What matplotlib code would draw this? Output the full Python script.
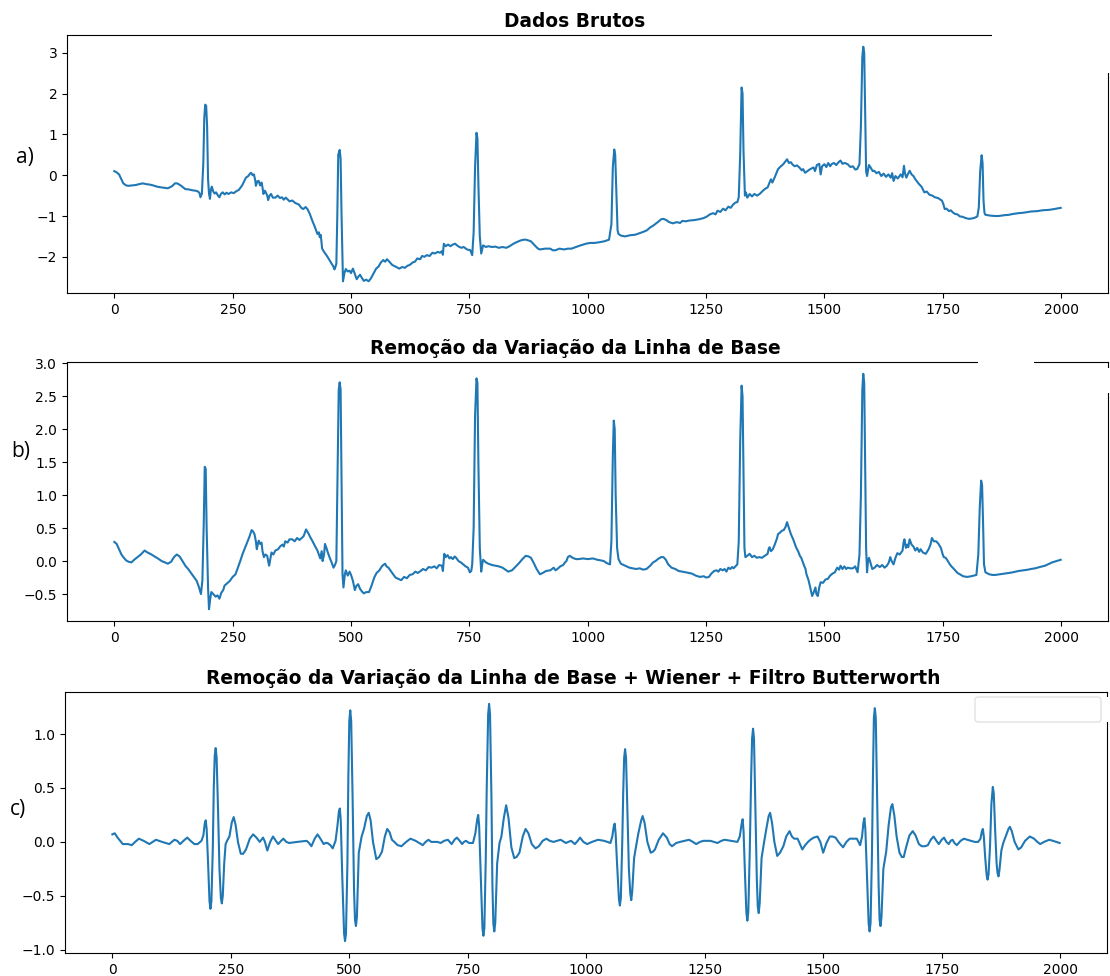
import matplotlib
matplotlib.use("Agg")
import matplotlib.pyplot as plt
from matplotlib.patches import Rectangle, FancyBboxPatch

# ---------------- data ----------------
titles = ["Dados Brutos",
          "Remoção da Variação da Linha de Base",
          "Remoção da Variação da Linha de Base + Wiener + Filtro Butterworth"]
panel_labels = ["a)", "b)", "c)"]

raw_pts = [
    (0, 0.10), (5, 0.07), (10, 0.02), (15, -0.10), (19, -0.20), (25, -0.25), (30, -0.26), (38, -0.25),
    (45, -0.24), (52, -0.22), (60, -0.20), (68, -0.22), (75, -0.23), (82, -0.25), (90, -0.28), (100, -0.30),
    (113, -0.32), (122, -0.27), (128, -0.20), (133, -0.20), (140, -0.25), (150, -0.34), (158, -0.35),
    (165, -0.37), (172, -0.38), (177, -0.40), (180, -0.44), (182, -0.54), (185, -0.45), (188, 0.30),
    (190, 1.40), (192, 1.73), (194, 1.70), (196, 1.20), (198, -0.10), (200, -0.45), (202, -0.58),
    (204, -0.35), (206, -0.28), (209, -0.40), (212, -0.45), (215, -0.42), (219, -0.50), (222, -0.54),
    (225, -0.46), (229, -0.42), (233, -0.47), (237, -0.43), (241, -0.46), (247, -0.42), (252, -0.44),
    (258, -0.39), (263, -0.36), (270, -0.25), (278, -0.06), (283, -0.02), (286, 0.03), (289, 0.06),
    (292, 0.00), (295, 0.02), (298, -0.15), (299, -0.26), (302, -0.15), (305, -0.14), (308, -0.25),
    (311, -0.18), (313, -0.30), (315, -0.46), (318, -0.38), (320, -0.42), (323, -0.50), (325, -0.61),
    (328, -0.50), (331, -0.46), (335, -0.55), (340, -0.55), (345, -0.50), (350, -0.56), (354, -0.54),
    (358, -0.60), (362, -0.55), (365, -0.58), (370, -0.64), (376, -0.62), (382, -0.68), (390, -0.72),
    (395, -0.80), (399, -0.83), (404, -0.78), (408, -0.83), (413, -0.95), (418, -1.11), (423, -1.25),
    (429, -1.44), (432, -1.40), (434, -1.52), (436, -1.46), (439, -1.80), (443, -1.88), (448, -1.96),
    (453, -2.05), (459, -2.17), (462, -2.22), (465, -2.31), (467, -2.25), (469, -2.17), (471, -1.00),
    (473, 0.50), (476, 0.62), (478, 0.40), (480, -1.00), (483, -2.60), (486, -2.40), (489, -2.30),
    (493, -2.36), (497, -2.34), (500, -2.40), (504, -2.29), (508, -2.42), (512, -2.55), (516, -2.48),
    (519, -2.44), (523, -2.52), (527, -2.59), (532, -2.56), (537, -2.60), (542, -2.53), (547, -2.42),
    (553, -2.29), (558, -2.24), (563, -2.14), (568, -2.08), (572, -2.12), (576, -2.06), (581, -2.12),
    (587, -2.20), (594, -2.24), (602, -2.29), (608, -2.25), (614, -2.27), (619, -2.22), (624, -2.20),
    (630, -2.14), (635, -2.12), (640, -2.04), (646, -2.06), (650, -1.98), (655, -2.00), (660, -1.96),
    (666, -1.98), (672, -1.90), (677, -1.92), (683, -1.88), (688, -1.90), (692, -1.86), (694, -1.95),
    (696, -1.68), (700, -1.74), (705, -1.70), (710, -1.74), (715, -1.70), (720, -1.68), (726, -1.74),
    (733, -1.78), (738, -1.76), (745, -1.82), (752, -1.84), (756, -1.96), (759, -1.40), (762, 0.20),
    (765, 1.04), (767, 0.90), (769, -0.20), (772, -1.50), (775, -1.92), (779, -1.72), (785, -1.76),
    (790, -1.74), (798, -1.76), (805, -1.75), (812, -1.78), (820, -1.76), (828, -1.78), (835, -1.74),
    (843, -1.68), (850, -1.64), (858, -1.60), (865, -1.58), (869, -1.58), (875, -1.60), (880, -1.62),
    (888, -1.72), (895, -1.80), (899, -1.82), (910, -1.80), (921, -1.80), (926, -1.84), (932, -1.84),
    (940, -1.80), (950, -1.82), (958, -1.80), (966, -1.80), (975, -1.76), (985, -1.72), (996, -1.68),
    (1005, -1.66), (1015, -1.66), (1026, -1.64), (1035, -1.62), (1045, -1.58), (1050, -1.20),
    (1053, 0.20), (1056, 0.63), (1058, 0.50), (1061, -0.60), (1063, -1.35), (1065, -1.44), (1070, -1.48),
    (1079, -1.50), (1090, -1.47), (1100, -1.46), (1110, -1.42), (1117, -1.39), (1125, -1.35),
    (1132, -1.28), (1139, -1.23), (1148, -1.15), (1155, -1.08), (1160, -1.07), (1166, -1.10),
    (1172, -1.15), (1180, -1.18), (1188, -1.15), (1195, -1.17), (1200, -1.12), (1207, -1.13),
    (1215, -1.11), (1225, -1.10), (1235, -1.08), (1245, -1.05), (1252, -1.01), (1258, -0.96),
    (1265, -0.93), (1270, -0.96), (1274, -0.87), (1280, -0.90), (1286, -0.82), (1291, -0.86),
    (1297, -0.77), (1302, -0.80), (1307, -0.72), (1312, -0.67), (1316, -0.66), (1319, -0.54),
    (1322, 0.50), (1325, 2.15), (1327, 2.00), (1329, 0.60), (1332, -0.50), (1334, -0.42), (1337, -0.55),
    (1342, -0.46), (1347, -0.52), (1352, -0.46), (1358, -0.50), (1364, -0.45), (1370, -0.38),
    (1375, -0.33), (1380, -0.30), (1384, -0.18), (1387, -0.10), (1390, -0.18), (1395, -0.05),
    (1402, 0.15), (1408, 0.22), (1413, 0.27), (1417, 0.33), (1421, 0.39), (1425, 0.30), (1429, 0.32),
    (1432, 0.27), (1437, 0.22), (1442, 0.24), (1447, 0.19), (1452, 0.12), (1455, 0.15), (1459, 0.06),
    (1464, 0.10), (1470, 0.15), (1477, 0.19), (1480, 0.10), (1484, 0.25), (1489, 0.28), (1492, 0.02),
    (1495, 0.22), (1500, 0.27), (1504, 0.20), (1508, 0.30), (1512, 0.22), (1515, 0.27), (1520, 0.30),
    (1525, 0.25), (1530, 0.32), (1534, 0.36), (1538, 0.28), (1543, 0.30), (1549, 0.27), (1555, 0.20),
    (1560, 0.22), (1565, 0.14), (1569, 0.15), (1574, 0.27), (1577, 1.20), (1580, 2.90), (1582, 3.15),
    (1584, 3.00), (1586, 1.50), (1588, 0.10), (1590, -0.02), (1594, 0.25), (1598, 0.18), (1602, 0.10),
    (1605, 0.11), (1610, 0.05), (1615, 0.08), (1620, -0.02), (1625, 0.04), (1630, -0.04), (1635, 0.02),
    (1640, -0.06), (1643, 0.05), (1646, -0.14), (1650, -0.02), (1655, -0.08), (1661, 0.02), (1665, -0.05),
    (1668, 0.23), (1670, 0.05), (1673, -0.06), (1676, 0.02), (1680, 0.11), (1684, 0.02), (1688, -0.02),
    (1692, -0.10), (1700, -0.22), (1705, -0.28), (1711, -0.42), (1716, -0.40), (1722, -0.48),
    (1728, -0.50), (1733, -0.54), (1740, -0.56), (1745, -0.60), (1748, -0.62), (1751, -0.70),
    (1754, -0.83), (1758, -0.82), (1763, -0.88), (1767, -0.86), (1771, -0.91), (1776, -0.95),
    (1781, -0.96), (1786, -1.01), (1792, -1.02), (1798, -1.05), (1805, -1.07), (1812, -1.06),
    (1818, -1.04), (1823, -1.01), (1826, -0.80), (1829, 0.10), (1832, 0.49), (1834, 0.30), (1836, -0.62),
    (1838, -0.92), (1840, -0.97), (1850, -0.99), (1860, -1.00), (1868, -1.00), (1880, -0.98),
    (1890, -0.97), (1898, -0.95), (1910, -0.93), (1920, -0.92), (1936, -0.89), (1950, -0.88),
    (1960, -0.86), (1974, -0.85), (1985, -0.83), (1999, -0.80)]

baseline_pts = [
    (0, 0.29), (5, 0.26), (10, 0.18), (15, 0.10), (19, 0.06), (25, 0.01), (30, -0.01), (36, -0.02),
    (42, 0.02), (49, 0.06), (56, 0.10), (64, 0.16), (70, 0.13), (76, 0.11), (83, 0.08), (92, 0.04),
    (100, 0.00), (107, -0.02), (113, -0.04), (120, -0.01), (126, 0.06), (132, 0.10), (138, 0.07),
    (144, 0.00), (150, -0.07), (156, -0.12), (162, -0.18), (169, -0.25), (174, -0.30), (179, -0.40),
    (183, -0.50), (186, -0.30), (189, 0.60), (191, 1.43), (193, 1.40), (195, 0.50), (198, -0.40),
    (200, -0.73), (203, -0.55), (205, -0.47), (209, -0.50), (214, -0.54), (218, -0.52), (222, -0.57),
    (226, -0.48), (230, -0.44), (233, -0.37), (238, -0.34), (244, -0.30), (250, -0.24), (256, -0.20),
    (262, -0.08), (266, 0.00), (271, 0.11), (276, 0.20), (282, 0.31), (286, 0.38), (290, 0.47),
    (293, 0.45), (296, 0.41), (299, 0.30), (301, 0.18), (303, 0.25), (305, 0.31), (308, 0.26),
    (311, 0.28), (313, 0.15), (316, 0.06), (319, 0.10), (323, 0.08), (325, 0.00), (327, -0.07),
    (330, 0.05), (332, 0.13), (336, 0.10), (340, 0.16), (346, 0.18), (350, 0.22), (355, 0.25),
    (358, 0.22), (361, 0.30), (366, 0.28), (370, 0.33), (376, 0.33), (381, 0.30), (386, 0.35),
    (391, 0.32), (396, 0.35), (400, 0.38), (405, 0.48), (410, 0.42), (414, 0.36), (418, 0.31),
    (423, 0.24), (429, 0.16), (432, 0.10), (435, 0.04), (438, 0.15), (440, 0.00), (443, 0.10),
    (445, 0.26), (448, 0.20), (451, 0.13), (455, 0.05), (459, -0.02), (463, -0.10), (466, -0.06),
    (469, 0.00), (471, 1.00), (474, 2.60), (476, 2.71), (478, 2.60), (480, 1.20), (482, -0.20),
    (484, -0.40), (487, -0.20), (489, -0.14), (493, -0.22), (497, -0.16), (500, -0.21), (504, -0.30),
    (508, -0.44), (511, -0.38), (515, -0.35), (519, -0.42), (523, -0.46), (527, -0.49), (532, -0.47),
    (538, -0.47), (543, -0.38), (549, -0.25), (554, -0.18), (560, -0.14), (565, -0.08), (568, -0.06),
    (572, -0.04), (575, -0.08), (579, -0.10), (584, -0.15), (589, -0.20), (594, -0.25), (600, -0.27),
    (606, -0.29), (612, -0.24), (618, -0.26), (624, -0.21), (630, -0.20), (636, -0.16), (641, -0.18),
    (647, -0.15), (652, -0.12), (658, -0.14), (664, -0.09), (670, -0.10), (676, -0.08), (681, -0.11),
    (686, -0.06), (692, -0.07), (694, -0.15), (697, 0.11), (700, 0.06), (704, 0.09), (708, 0.04),
    (711, 0.06), (715, 0.03), (719, 0.07), (722, 0.05), (727, 0.00), (732, -0.02), (737, -0.05),
    (742, -0.08), (747, -0.10), (751, -0.17), (754, -0.15), (756, -0.05), (759, 0.50), (762, 2.20),
    (765, 2.77), (767, 2.70), (769, 1.50), (772, 0.20), (775, -0.16), (777, -0.05), (779, 0.02),
    (785, -0.02), (790, -0.04), (798, -0.06), (805, -0.07), (812, -0.08), (820, -0.10), (826, -0.13),
    (832, -0.16), (840, -0.14), (847, -0.09), (855, -0.03), (862, 0.03), (869, 0.08), (875, 0.07),
    (880, 0.05), (886, -0.03), (892, -0.12), (899, -0.20), (905, -0.18), (912, -0.15), (921, -0.14),
    (928, -0.10), (932, -0.14), (936, -0.12), (942, -0.08), (948, -0.06), (952, -0.02), (955, 0.00),
    (958, 0.06), (962, 0.08), (968, 0.05), (975, 0.03), (981, 0.03), (990, 0.04), (1000, 0.03),
    (1011, 0.04), (1020, 0.02), (1028, 0.01), (1034, 0.00), (1040, -0.03), (1047, -0.05), (1050, 0.30),
    (1053, 1.60), (1055, 2.13), (1057, 2.00), (1059, 1.00), (1062, 0.20), (1065, 0.03), (1070, -0.04),
    (1079, -0.07), (1088, -0.10), (1095, -0.11), (1102, -0.12), (1110, -0.11), (1117, -0.13),
    (1124, -0.12), (1132, -0.07), (1138, -0.02), (1143, 0.00), (1150, 0.04), (1155, 0.06), (1160, 0.06),
    (1165, 0.02), (1170, -0.05), (1177, -0.10), (1185, -0.12), (1192, -0.15), (1200, -0.16),
    (1207, -0.17), (1214, -0.18), (1220, -0.19), (1228, -0.22), (1237, -0.24), (1245, -0.23),
    (1250, -0.25), (1256, -0.24), (1261, -0.19), (1267, -0.15), (1272, -0.14), (1276, -0.16),
    (1280, -0.12), (1285, -0.14), (1289, -0.12), (1293, -0.16), (1297, -0.10), (1301, -0.12),
    (1305, -0.09), (1308, -0.11), (1312, -0.08), (1316, -0.05), (1319, 0.30), (1322, 1.80),
    (1325, 2.66), (1327, 2.50), (1329, 1.30), (1331, 0.20), (1333, 0.06), (1337, 0.08), (1342, 0.11),
    (1347, 0.06), (1352, 0.08), (1357, 0.05), (1362, 0.06), (1368, 0.05), (1374, 0.08), (1380, 0.11),
    (1382, 0.18), (1384, 0.21), (1387, 0.15), (1391, 0.18), (1395, 0.25), (1400, 0.35), (1402, 0.41),
    (1406, 0.43), (1410, 0.46), (1414, 0.47), (1418, 0.52), (1421, 0.59), (1425, 0.50), (1429, 0.41),
    (1434, 0.33), (1440, 0.21), (1445, 0.14), (1448, 0.08), (1451, 0.05), (1456, -0.05), (1460, -0.12),
    (1462, -0.20), (1466, -0.28), (1470, -0.40), (1474, -0.53), (1477, -0.48), (1481, -0.40),
    (1483, -0.50), (1486, -0.53), (1489, -0.40), (1492, -0.32), (1497, -0.33), (1502, -0.28),
    (1507, -0.27), (1512, -0.22), (1517, -0.19), (1522, -0.17), (1527, -0.10), (1531, -0.13),
    (1534, -0.07), (1538, -0.12), (1542, -0.08), (1546, -0.12), (1549, -0.10), (1555, -0.11),
    (1560, -0.11), (1565, -0.08), (1570, -0.17), (1574, 0.10), (1577, 1.00), (1580, 2.60), (1582, 2.84),
    (1584, 2.70), (1586, 1.50), (1588, 0.20), (1590, -0.17), (1592, 0.00), (1594, 0.05), (1597, -0.02),
    (1601, -0.12), (1606, -0.10), (1611, -0.06), (1617, -0.09), (1622, -0.06), (1627, -0.10),
    (1632, -0.07), (1636, -0.02), (1639, 0.06), (1642, 0.00), (1646, -0.05), (1650, 0.05), (1654, 0.12),
    (1659, 0.10), (1665, 0.16), (1667, 0.28), (1669, 0.33), (1672, 0.20), (1675, 0.25), (1677, 0.21),
    (1680, 0.33), (1684, 0.25), (1688, 0.22), (1692, 0.16), (1696, 0.20), (1700, 0.14), (1703, 0.18),
    (1708, 0.13), (1714, 0.11), (1720, 0.18), (1724, 0.25), (1727, 0.35), (1731, 0.30), (1736, 0.30),
    (1741, 0.26), (1746, 0.20), (1749, 0.12), (1752, 0.06), (1756, 0.05), (1759, 0.02), (1764, -0.04),
    (1768, -0.08), (1771, -0.10), (1776, -0.14), (1781, -0.18), (1786, -0.20), (1793, -0.23),
    (1801, -0.24), (1810, -0.23), (1816, -0.22), (1821, -0.21), (1825, 0.10), (1828, 0.80), (1831, 1.22),
    (1833, 1.15), (1835, 0.60), (1837, -0.05), (1840, -0.17), (1848, -0.20), (1855, -0.21), (1861, -0.21),
    (1870, -0.20), (1880, -0.19), (1890, -0.18), (1898, -0.17), (1910, -0.15), (1920, -0.14),
    (1930, -0.13), (1936, -0.12), (1945, -0.11), (1955, -0.09), (1966, -0.07), (1972, -0.05),
    (1981, -0.02), (1990, 0.00), (1999, 0.02)]

filtered_pts = [
    (0, 0.07), (5, 0.08), (11, 0.04), (22, -0.02), (33, -0.02), (41, -0.03), (48, 0.00), (56, 0.03),
    (66, 0.01), (78, -0.02), (85, 0.00), (92, 0.02), (105, 0.00), (120, -0.02), (131, 0.02), (137, 0.01),
    (143, -0.02), (150, 0.01), (158, 0.04), (165, 0.01), (173, -0.02), (180, -0.02), (188, 0.01),
    (192, 0.06), (195, 0.17), (197, 0.20), (199, 0.12), (202, -0.20), (205, -0.55), (207, -0.62),
    (209, -0.55), (212, -0.05), (214, 0.50), (216, 0.80), (218, 0.87), (220, 0.78), (223, 0.30),
    (226, -0.25), (229, -0.52), (231, -0.57), (233, -0.50), (236, -0.20), (239, -0.02), (242, 0.01),
    (247, 0.05), (252, 0.18), (256, 0.23), (260, 0.16), (265, 0.00), (271, -0.11), (276, -0.11),
    (282, -0.07), (290, 0.03), (297, 0.07), (304, 0.04), (311, 0.00), (318, 0.04), (322, 0.00),
    (327, -0.08), (333, 0.00), (339, 0.05), (345, 0.01), (350, -0.02), (356, 0.01), (361, 0.03),
    (367, 0.00), (373, -0.01), (390, 0.00), (410, 0.01), (415, -0.01), (420, -0.04), (427, 0.03),
    (433, 0.07), (439, 0.03), (446, -0.02), (450, -0.01), (454, -0.01), (460, -0.03), (465, -0.06),
    (471, 0.01), (475, 0.15), (478, 0.28), (480, 0.31), (482, 0.20), (485, -0.30), (489, -0.85),
    (491, -0.92), (493, -0.85), (496, -0.20), (498, 0.60), (500, 1.12), (502, 1.22), (504, 1.12),
    (507, 0.40), (510, -0.45), (512, -0.72), (514, -0.78), (516, -0.70), (520, -0.10), (526, 0.05),
    (531, 0.12), (537, 0.24), (541, 0.27), (545, 0.20), (550, 0.00), (557, -0.16), (563, -0.14),
    (569, -0.09), (575, 0.05), (580, 0.12), (585, 0.09), (590, 0.02), (595, 0.00), (602, -0.03),
    (610, -0.04), (620, 0.00), (629, 0.03), (640, 0.01), (655, -0.03), (661, 0.00), (667, 0.02),
    (673, 0.00), (678, 0.00), (686, 0.00), (693, -0.01), (700, 0.01), (708, 0.02), (712, 0.00),
    (716, -0.02), (722, 0.02), (727, 0.04), (733, 0.01), (738, -0.02), (742, 0.00), (746, 0.01),
    (753, -0.01), (761, -0.01), (766, 0.08), (770, 0.21), (772, 0.25), (774, 0.15), (777, -0.25),
    (781, -0.80), (783, -0.87), (785, -0.80), (788, -0.15), (790, 0.50), (793, 1.18), (795, 1.28),
    (797, 1.18), (800, 0.40), (802, -0.40), (804, -0.76), (806, -0.83), (808, -0.75), (812, -0.20),
    (817, -0.01), (821, 0.05), (826, 0.22), (831, 0.34), (836, 0.22), (842, -0.05), (848, -0.15),
    (853, -0.14), (859, -0.10), (866, 0.05), (872, 0.12), (878, 0.08), (885, -0.02), (893, -0.06),
    (900, -0.04), (908, 0.01), (916, 0.03), (923, 0.01), (931, 0.00), (946, 0.02), (957, -0.01),
    (962, 0.00), (968, 0.01), (976, -0.02), (982, 0.01), (987, 0.04), (994, 0.00), (1002, -0.02),
    (1012, 0.00), (1025, 0.02), (1038, 0.01), (1051, -0.01), (1055, 0.05), (1058, 0.14), (1060, 0.17),
    (1062, 0.08), (1065, -0.20), (1069, -0.53), (1071, -0.59), (1073, -0.52), (1076, 0.00), (1078, 0.45),
    (1080, 0.78), (1082, 0.86), (1084, 0.78), (1087, 0.25), (1090, -0.25), (1093, -0.48), (1095, -0.54),
    (1097, -0.46), (1101, -0.15), (1104, -0.07), (1110, 0.08), (1116, 0.20), (1119, 0.24), (1123, 0.18),
    (1129, 0.00), (1136, -0.10), (1141, -0.09), (1145, -0.07), (1153, 0.02), (1162, 0.08), (1170, 0.04),
    (1176, -0.02), (1181, -0.04), (1190, -0.01), (1198, 0.00), (1208, 0.01), (1217, 0.02), (1225, 0.00),
    (1232, -0.02), (1240, 0.00), (1247, 0.01), (1262, 0.01), (1277, -0.01), (1285, 0.01), (1292, 0.02),
    (1305, 0.01), (1319, 0.00), (1324, 0.05), (1328, 0.17), (1330, 0.21), (1332, 0.10), (1335, -0.30),
    (1338, -0.66), (1340, -0.73), (1342, -0.65), (1345, -0.10), (1348, 0.60), (1350, 0.96), (1352, 1.05),
    (1354, 0.96), (1357, 0.30), (1360, -0.35), (1362, -0.60), (1364, -0.66), (1366, -0.57), (1370, -0.15),
    (1375, -0.01), (1380, 0.12), (1385, 0.24), (1388, 0.27), (1392, 0.18), (1397, 0.00), (1403, -0.13),
    (1409, -0.10), (1416, -0.04), (1422, 0.05), (1429, 0.10), (1434, 0.05), (1439, 0.03), (1446, 0.03),
    (1451, -0.02), (1456, -0.07), (1462, -0.03), (1468, 0.00), (1473, 0.02), (1480, 0.04), (1488, 0.05),
    (1494, 0.00), (1500, -0.10), (1507, -0.01), (1514, 0.05), (1520, 0.05), (1526, 0.04), (1534, -0.01),
    (1542, -0.05), (1549, 0.00), (1556, 0.03), (1564, 0.03), (1571, 0.03), (1578, -0.03), (1582, 0.05),
    (1585, 0.18), (1587, 0.22), (1589, 0.12), (1592, -0.25), (1596, -0.76), (1598, -0.83), (1600, -0.75),
    (1603, -0.10), (1605, 0.60), (1607, 1.15), (1609, 1.24), (1611, 1.15), (1614, 0.35), (1617, -0.40),
    (1619, -0.72), (1621, -0.78), (1623, -0.70), (1627, -0.25), (1633, -0.09), (1638, 0.15), (1643, 0.32),
    (1646, 0.35), (1650, 0.25), (1655, 0.05), (1661, -0.10), (1666, -0.14), (1670, -0.14), (1675, -0.05),
    (1682, 0.06), (1689, 0.10), (1695, 0.06), (1702, -0.02), (1708, -0.04), (1715, -0.04), (1721, -0.03),
    (1727, 0.02), (1733, 0.05), (1739, 0.01), (1744, -0.02), (1750, 0.02), (1755, 0.04), (1760, 0.00),
    (1765, -0.02), (1769, 0.01), (1773, 0.02), (1777, -0.01), (1782, -0.03), (1790, 0.01), (1797, 0.03),
    (1804, 0.02), (1812, 0.01), (1820, 0.00), (1827, 0.00), (1832, 0.03), (1835, 0.10), (1837, 0.12),
    (1839, 0.05), (1842, -0.15), (1845, -0.31), (1847, -0.35), (1849, -0.30), (1852, -0.05), (1855, 0.35),
    (1858, 0.51), (1860, 0.45), (1863, 0.10), (1866, -0.20), (1868, -0.29), (1870, -0.32), (1872, -0.26),
    (1876, -0.08), (1880, -0.01), (1886, 0.06), (1891, 0.12), (1894, 0.14), (1898, 0.10), (1904, 0.00),
    (1912, -0.07), (1918, -0.05), (1926, 0.01), (1936, 0.05), (1945, 0.03), (1952, 0.00), (1958, -0.02),
    (1966, 0.00), (1977, 0.02), (1985, 0.01), (1999, -0.01)]

series = [raw_pts, baseline_pts, filtered_pts]

# ---------------- layout (pixel boxes of the reference) ----------------
W, H = 1110, 976
fig = plt.figure(figsize=(W / 100, H / 100), dpi=100)


def fbox(l, t, r, b):
    return [l / W, 1 - b / H, (r - l) / W, (b - t) / H]


axes_px = [(67, 35, 1108, 293), (67, 362, 1108, 621), (65, 692, 1107, 953)]
label_pos = [(25, 157), (21, 452), (18, 810)]

for pts, title, lab, bx, lp in zip(series, titles, panel_labels, axes_px, label_pos):
    ax = fig.add_axes(fbox(*bx))
    xs, ys = zip(*pts)
    ax.plot(xs, ys, color="#1f77b4", lw=1.5)
    ax.set_title(title, fontsize=13.4, fontweight="bold", x=0.488)
    ax.tick_params(labelsize=10)
    fig.text(lp[0] / W, 1 - lp[1] / H, lab, fontsize=15, family="Open Sans",
             ha="center", va="center")


def mask(l, t, r, b):
    fig.add_artist(Rectangle((l / W, 1 - b / H), (r - l) / W, (b - t) / H,
                             transform=fig.transFigure, facecolor="white",
                             edgecolor="none", zorder=10))


# white patches present in the reference screenshot
mask(992, 0, 1110, 73)
mask(978, 355, 1034, 366)
mask(1100, 368, 1110, 393)
mask(1100, 697, 1110, 722)
fig.add_artist(FancyBboxPatch((975 / W, 1 - 722 / H), (1101 - 975) / W, (722 - 697) / H,
                              boxstyle="round,pad=0,rounding_size=0.003",
                              transform=fig.transFigure, facecolor="white",
                              edgecolor="#e2e2e2", lw=1, zorder=11))

fig.savefig("out.png", dpi=100)
